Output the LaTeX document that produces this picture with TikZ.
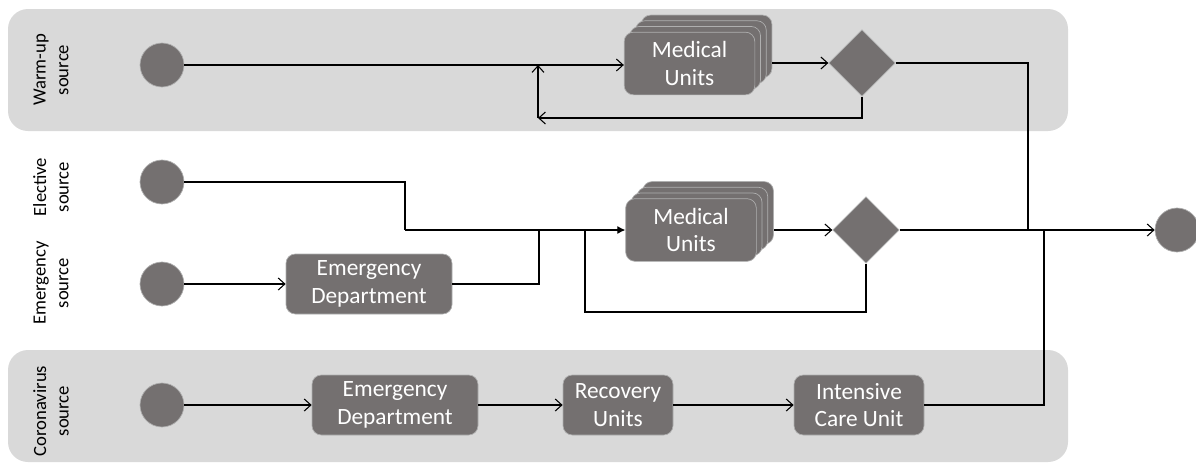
\documentclass[tikz,border=0pt]{standalone}
\usepackage{fontspec}
\setmainfont{Carlito}
\usetikzlibrary{shapes.geometric,arrows.meta,positioning,calc}
\definecolor{unitgray}{RGB}{116,112,112}
\definecolor{lanegray}{RGB}{217,217,217}
\definecolor{edgegray}{RGB}{175,175,175}

\begin{document}
\begin{tikzpicture}[
    x=0.75pt, y=-0.75pt,
    lane/.style={fill=lanegray, rounded corners=15pt},
    lanelabel/.style={rotate=90, align=center, font=\fontsize{14}{17}\selectfont},
    unit/.style={rectangle, rounded corners=7pt, fill=unitgray, draw=edgegray, line width=0.5pt, text=white, align=center, inner sep=0pt, font=\fontsize{17.5}{20.5}\selectfont},
    source/.style={circle, fill=unitgray, draw=edgegray, line width=0.5pt, minimum size=33pt, inner sep=0pt},
    decision/.style={diamond, fill=unitgray, draw=edgegray, line width=0.5pt, minimum width=50pt, minimum height=50pt, inner sep=0pt},
    line/.style={line width=0.8pt},
    flow/.style={line, -{Straight Barb[length=5pt,width=9pt]}},
    solidflow/.style={line, -{Latex[length=6pt,width=6pt]}}
]
\useasboundingbox (0,0) rectangle (1196,465);

% Lanes
\fill[lane] (8,9) rectangle (1068,131);
\fill[lane] (8,350) rectangle (1068,462);

\node[lanelabel] (lwarm) at (51,70) {Warm-up\\source};
\node[lanelabel] (lelec) at (51,187) {Elective\\source};
\node[lanelabel] (lemer) at (51,283) {Emergency\\source};
\node[lanelabel] (lcorona) at (51,411) {Coronavirus\\source};

% Sources and sink
\node[source] (s1) at (162,65) {};
\node[source] (s2) at (162,182) {};
\node[source] (s3) at (162,284) {};
\node[source] (s4) at (162,405) {};
\node[source] (out) at (1177,230) {};

% Medical units (stacked)
\foreach \k in {3,2,1}
  \node[unit, minimum width=98pt, minimum height=47pt] (mu1b\k) at ($(689.5,63.5)+(5.7*\k,-5.7*\k)$) {};
\node[unit, minimum width=98pt, minimum height=47pt] (mu1) at (689.5,63.5) {Medical\\Units};
\foreach \k in {3,2,1}
  \node[unit, minimum width=98pt, minimum height=47pt] (mu2b\k) at ($(691,230)+(5.7*\k,-5.7*\k)$) {};
\node[unit, minimum width=98pt, minimum height=47pt] (mu2) at (691,230) {Medical\\Units};

\node[decision] (d1) at (862,63) {};
\node[decision] (d2) at (866,230) {};

% Emergency and coronavirus path
\node[unit, minimum width=124.5pt, minimum height=45pt] (ed1) at (369,284) {Emergency\\Department};
\node[unit, minimum width=124.5pt, minimum height=45pt] (ed2) at (395,405) {Emergency\\Department};
\node[unit, minimum width=82.5pt, minimum height=45pt] (rec) at (618,405) {Recovery\\Units};
\node[unit, minimum width=97.5pt, minimum height=45pt] (icu) at (859,405) {Intensive\\Care Unit};

% Junction points
\coordinate (loop1) at (538,118);
\coordinate (e1) at (405,230);
\coordinate (j2) at (539,230);
\coordinate (j3) at (585,230);
\coordinate (loop2) at (585,312);
\coordinate (j1) at (1028,230);
\coordinate (j4) at (1044,230);

% Warm-up flow
\draw[flow] (s1) -- (s1 -| mu1.west);
\draw[flow] (d1.west -| mu1b3.east) -- (d1.west);
\draw[flow] (d1.south) |- (loop1);
\draw[flow] (loop1) -- (loop1 |- s1);
\draw[line] (d1.east) -| (j1);

% Elective and emergency flow
\draw[line] (s2) -| (e1);
\draw[solidflow] (e1) -- (mu2.west);
\draw[flow] (s3) -- (ed1);
\draw[line] (ed1.east) -| (j2);
\draw[flow] (d2.west -| mu2b3.east) -- (d2.west);
\draw[line] (d2.south) |- (loop2) -- (j3);
\draw[flow] (d2.east) -- (out.west);

% Coronavirus flow
\draw[flow] (s4) -- (ed2);
\draw[flow] (ed2) -- (rec);
\draw[flow] (rec) -- (icu);
\draw[line] (icu.east) -| (j4);

\end{tikzpicture}
\end{document}
